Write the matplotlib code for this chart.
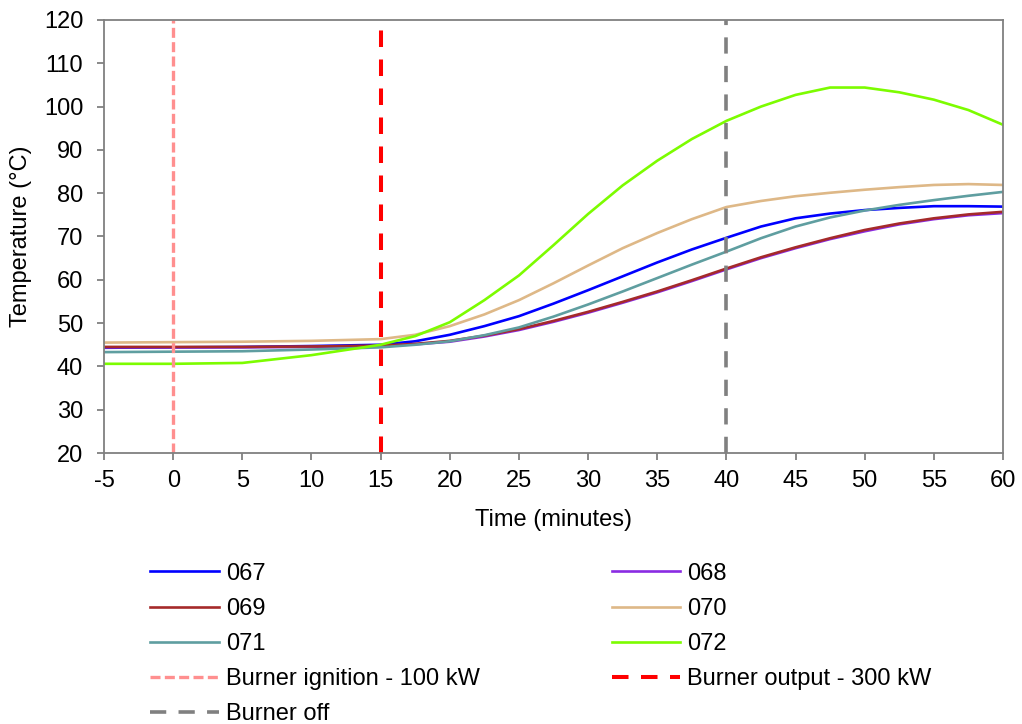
import matplotlib
matplotlib.use('Agg')
import matplotlib.pyplot as plt

plt.rcParams['font.family'] = ['Liberation Sans', 'DejaVu Sans']
plt.rcParams['axes.unicode_minus'] = False

# time (minutes) and temperatures (°C)
time = [-5, 0, 5, 10, 15, 17.5, 20, 22.5, 25, 27.5, 30, 32.5, 35, 37.5, 40,
        42.5, 45, 47.5, 50, 52.5, 55, 57.5, 60]
t067 = [44.3, 44.4, 44.5, 44.7, 45.0, 45.8, 47.3, 49.3, 51.6, 54.5, 57.6, 60.8, 64.0,
        67.0, 69.7, 72.3, 74.2, 75.3, 76.1, 76.6, 77.0, 77.0, 76.9]
t068 = [44.4, 44.4, 44.4, 44.5, 44.7, 45.1, 45.7, 46.9, 48.4, 50.3, 52.4, 54.7, 57.1,
        59.7, 62.4, 65.0, 67.3, 69.4, 71.2, 72.8, 74.0, 74.9, 75.4]
t069 = [44.5, 44.5, 44.5, 44.6, 44.8, 45.2, 45.9, 47.1, 48.6, 50.5, 52.6, 54.9, 57.3,
        59.9, 62.6, 65.2, 67.5, 69.6, 71.5, 73.0, 74.2, 75.1, 75.7]
t070 = [45.5, 45.6, 45.7, 45.9, 46.3, 47.3, 49.3, 52.0, 55.3, 59.2, 63.3, 67.3, 70.8,
        74.0, 76.8, 78.2, 79.3, 80.1, 80.8, 81.4, 81.9, 82.1, 81.9]
t071 = [43.3, 43.4, 43.5, 43.9, 44.4, 45.0, 45.8, 47.2, 49.0, 51.5, 54.3, 57.3, 60.4,
        63.5, 66.5, 69.6, 72.3, 74.4, 76.0, 77.3, 78.4, 79.4, 80.3]
t072 = [40.6, 40.6, 40.8, 42.6, 45.0, 47.0, 50.2, 55.3, 61.0, 68.0, 75.2, 81.8, 87.5,
        92.5, 96.7, 100.0, 102.7, 104.4, 104.4, 103.3, 101.6, 99.2, 95.8]

series_names = ['067', '068', '069', '070', '071', '072']
series_data = [t067, t068, t069, t070, t071, t072]
series_colors = ['#0000FF', '#8A2BE2', '#A52A2A', '#DEB887', '#5F9EA0', '#7CFC00']

events = [0, 15, 40]
event_labels = ['Burner ignition - 100 kW', 'Burner output - 300 kW', 'Burner off']
event_colors = ['#FF8F8F', '#FF0000', '#808080']
event_widths = [2.4, 2.9, 2.6]
event_dashes = [(3.0, 1.3), (4.1, 3.1), (4.5, 3.4)]

fs = 17

fig = plt.figure(figsize=(10.22, 7.24), dpi=100)
ax = fig.add_axes([0.1018, 0.3743, 0.8796, 0.5981])

handles = {}
for name, vals, c in zip(series_names, series_data, series_colors):
    handles[name], = ax.plot(time, vals, '-', color=c, lw=1.9, label=name)

for x, lab, c, w, d in zip(events, event_labels, event_colors, event_widths, event_dashes):
    handles[lab] = ax.axvline(x, color=c, lw=w, dashes=d, label=lab)

ax.set_xlim(-5, 60)
ax.set_ylim(20, 120)
ax.set_xticks(range(-5, 61, 5))
ax.set_yticks(range(20, 121, 10))
for s in ax.spines.values():
    s.set_color('#808080')
    s.set_linewidth(1.3)
ax.tick_params(direction='out', length=5, width=1.3, color='#808080',
               labelsize=fs)
ax.tick_params(axis='y', pad=10)
ax.tick_params(axis='x', pad=7)
ax.set_xlabel('Time (minutes)', fontsize=fs, labelpad=12.5)
ax.set_ylabel('Temperature (°C)', fontsize=fs, labelpad=8.5)

# legend filled row-wise: reorder for matplotlib's column-wise fill
order = ['067', '069', '071', event_labels[0], event_labels[2],
         '068', '070', '072', event_labels[1]]
fig.legend([handles[k] for k in order], order, loc='upper left',
           bbox_to_anchor=(0.1376, 0.236), ncol=2, frameon=False, fontsize=fs,
           handlelength=2.9, handletextpad=0.3, labelspacing=0.56,
           columnspacing=5.6, borderaxespad=0)

fig.savefig('out.png', dpi=100)
